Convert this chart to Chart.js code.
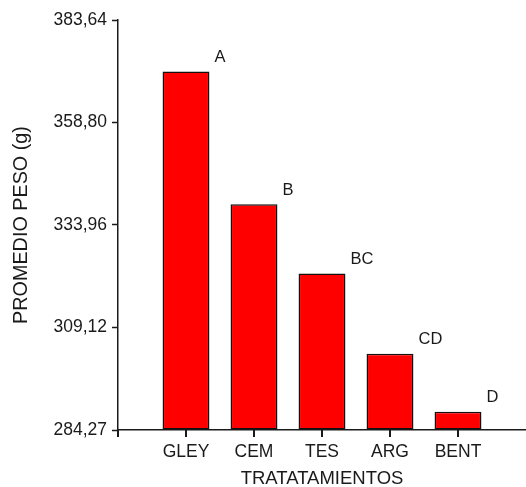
<!DOCTYPE html>
<html>
<head>
<meta charset="utf-8">
<script src="https://cdn.jsdelivr.net/npm/chart.js@4/dist/chart.umd.min.js"></script>
<style>
  html, body { margin: 0; padding: 0; background: #ffffff; }
  #wrap { width: 526px; height: 487px; }
</style>
</head>
<body>
<div id="wrap"><canvas id="c" width="526" height="487"></canvas></div>
<script>
// Treatments and mean weight (g) per treatment
const categories = ['GLEY', 'CEM', 'TES', 'ARG', 'BENT'];
const meanWeight = [371.15, 339.01, 322.17, 302.74, 288.72];
// Significance groups shown above each bar
const groupLetters = ['A', 'B', 'BC', 'CD', 'D'];
// Y axis ticks and their printed labels
const yTickValues = [284.27, 309.12, 333.96, 358.80, 383.64];
const yTickLabels = ['284,27', '309,12', '333,96', '358,80', '383,64'];

const FAMILY = '"Liberation Sans", Arial, sans-serif';
const TICK_FONT = { family: FAMILY, size: 17.5 };
const INK = '#1a1a1a';
const X_TICK_LEN = 7;

// Group letters up and to the right of each bar, plus the x-axis tick marks
const annotatePlugin = {
  id: 'annotate',
  afterDraw(chart) {
    const ctx = chart.ctx;
    const meta = chart.getDatasetMeta(0);
    const area = chart.chartArea;
    const marks = [area.left].concat(meta.data.map(b => b.x));
    ctx.save();
    ctx.fillStyle = INK;
    marks.forEach(px => {
      ctx.fillRect(Math.round(px) - 1, area.bottom, 2, X_TICK_LEN);
    });
    ctx.font = '16.5px ' + FAMILY;
    ctx.textAlign = 'left';
    ctx.textBaseline = 'middle';
    meta.data.forEach((bar, i) => {
      ctx.fillText(groupLetters[i], bar.x + bar.width / 2 + 5, bar.y - 14);
    });
    ctx.restore();
  }
};

new Chart(document.getElementById('c'), {
  type: 'bar',
  data: {
    datasets: [{
      data: categories.map((c, i) => ({ x: i + 1, y: meanWeight[i] })),
      base: yTickValues[0],
      backgroundColor: '#ff0000',
      borderColor: '#111111',
      borderWidth: 1.5,
      borderSkipped: false,
      barPercentage: 0.69,
      categoryPercentage: 1.0
    }]
  },
  options: {
    responsive: false,
    animation: false,
    layout: { padding: { top: 20, right: 0, bottom: 0, left: 0 } },
    plugins: { legend: { display: false }, tooltip: { enabled: false } },
    scales: {
      x: {
        type: 'linear',
        min: 0,
        max: 6,
        offset: false,
        afterBuildTicks(scale) {
          scale.ticks = [0, 1, 2, 3, 4, 5].map(v => ({ value: v }));
        },
        afterFit(scale) { scale.height = 57; },
        ticks: {
          color: INK,
          font: TICK_FONT,
          padding: 5 + X_TICK_LEN,
          maxRotation: 0,
          autoSkip: false,
          callback: (v) => (v >= 1 && v <= categories.length ? categories[v - 1] : '')
        },
        grid: { display: true, offset: false, drawOnChartArea: false, drawTicks: false },
        border: { display: true, color: INK, width: 1.5 },
        title: { display: true, text: 'TRATATAMIENTOS', color: INK, font: { family: FAMILY, size: 18.5 }, padding: { top: 0, bottom: -3 } }
      },
      y: {
        min: yTickValues[0],
        max: yTickValues[yTickValues.length - 1],
        afterBuildTicks(scale) {
          scale.ticks = yTickValues.map(v => ({ value: v }));
        },
        afterFit(scale) { scale.width = 118; },
        ticks: {
          color: INK,
          font: TICK_FONT,
          padding: 5,
          callback: (v, i) => yTickLabels[i]
        },
        grid: { display: true, drawOnChartArea: false, drawTicks: true, tickLength: 6, tickColor: INK, tickWidth: 1.5 },
        border: { display: true, color: INK, width: 1.5 },
        title: { display: true, text: 'PROMEDIO PESO (g)', color: INK, font: { family: FAMILY, size: 19.8 }, padding: { top: 10, bottom: 0 } }
      }
    }
  },
  plugins: [annotatePlugin]
});
</script>
</body>
</html>
